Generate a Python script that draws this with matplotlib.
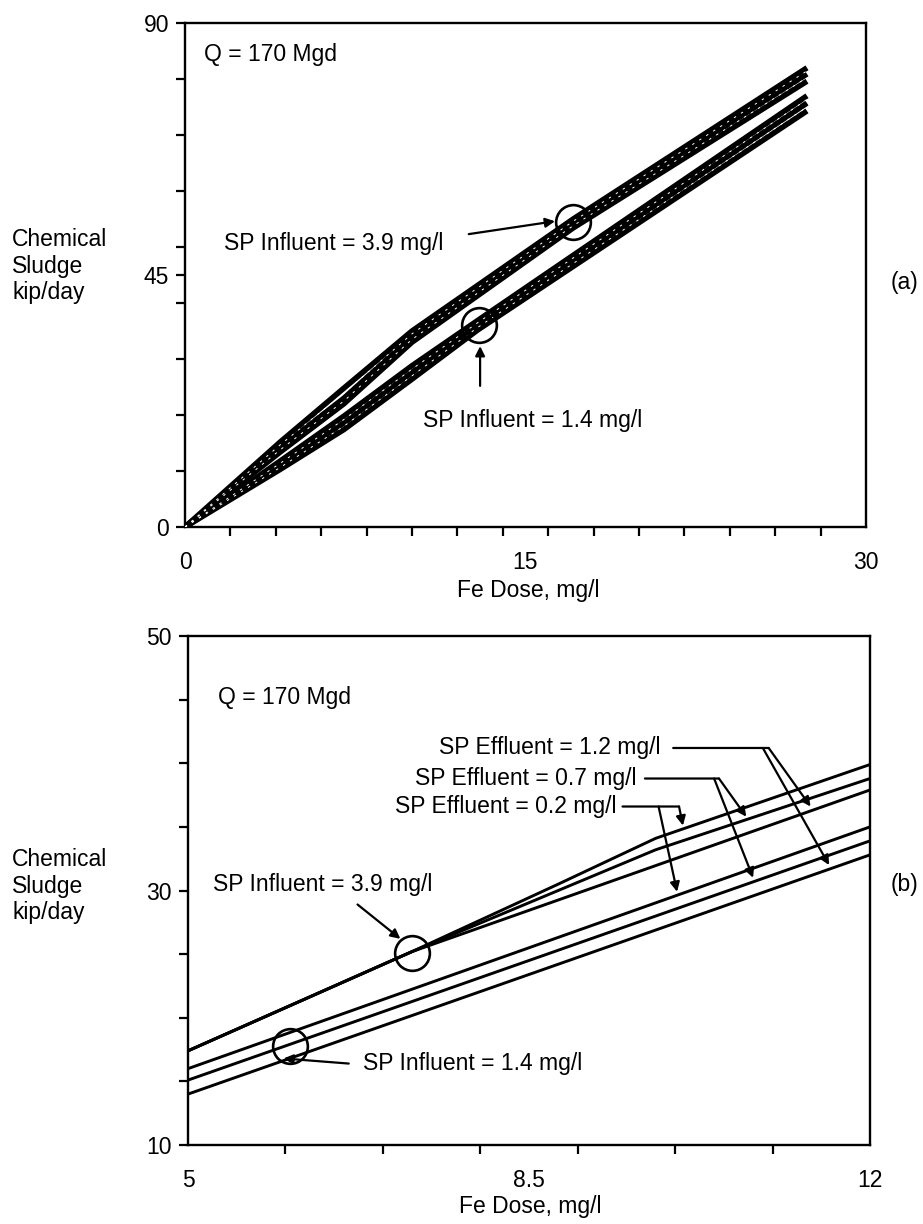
import matplotlib
matplotlib.use("Agg")
import matplotlib.pyplot as plt
from matplotlib.ticker import FixedLocator, FixedFormatter, NullFormatter

plt.rcParams['font.family'] = ['Liberation Sans', 'DejaVu Sans']

# ---------------- Panel (a) data ----------------
a_x_inf39 = [0, 4.2, 7.0, 10.0, 17.1, 27.4]
a_y_inf39_e02 = [0, 15.2, 24.8, 35.0, 55.0, 82.0]
a_y_inf39_e07 = [0, 14.2, 23.0, 34.0, 54.2, 80.9]
a_y_inf39_e12 = [0, 13.4, 22.0, 33.0, 53.4, 79.6]

a_x_inf14 = [0, 4.2, 7.0, 10.0, 12.9, 27.4]
a_y_inf14_e02 = [0, 11.8, 19.8, 28.8, 36.9, 77.0]
a_y_inf14_e07 = [0, 11.0, 18.6, 27.6, 36.1, 75.7]
a_y_inf14_e12 = [0, 10.3, 17.4, 26.4, 35.2, 74.3]

a_xticks = [0, 15, 30]
a_xticklabels = ["0", "15", "30"]
a_yticks = [0, 45, 90]
a_yticklabels = ["0", "45", "90"]

# ---------------- Panel (b) data ----------------
b_x_inf39_e02 = [5, 7.3, 8.8, 9.8, 12]
b_y_inf39_e02 = [17.4, 25.2, 30.5, 34.1, 39.9]
b_x_inf39_e07 = [5, 7.3, 9.8, 12]
b_y_inf39_e07 = [17.4, 25.2, 33.2, 38.8]
b_x_inf39_e12 = [5, 7.3, 12]
b_y_inf39_e12 = [17.4, 25.2, 37.9]

b_x_inf14 = [5, 8.5, 12]
b_y_inf14_e02 = [16.0, 25.5, 35.0]
b_y_inf14_e07 = [15.1, 24.5, 33.9]
b_y_inf14_e12 = [14.0, 23.4, 32.8]

b_xticks = [5, 8.5, 12]
b_xticklabels = ["5", "8.5", "12"]
b_yticks = [10, 30, 50]
b_yticklabels = ["10", "30", "50"]

FS = 16.5
W, H = 923, 1224

fig = plt.figure(figsize=(W / 100, H / 100), dpi=100)
ax1 = fig.add_axes([185 / W, 1 - 527 / H, 681 / W, 504 / H])
ax2 = fig.add_axes([188 / W, 1 - 1145 / H, 682 / W, 509 / H])


def style_axis(ax, xlim, ylim, xt, xtl, xminor, yt, ytl, yminor):
    ax.set_xlim(*xlim)
    ax.set_ylim(*ylim)
    for s in ax.spines.values():
        s.set_linewidth(1.7)
    ax.xaxis.set_major_locator(FixedLocator(xt))
    ax.xaxis.set_major_formatter(FixedFormatter(xtl))
    ax.xaxis.set_minor_locator(FixedLocator(xminor))
    ax.xaxis.set_minor_formatter(NullFormatter())
    ax.yaxis.set_major_locator(FixedLocator(yt))
    ax.yaxis.set_major_formatter(FixedFormatter(ytl))
    ax.yaxis.set_minor_locator(FixedLocator(yminor))
    ax.yaxis.set_minor_formatter(NullFormatter())
    ax.tick_params(axis='x', which='major', direction='out', length=0,
                   labelsize=FS, pad=17)
    ax.tick_params(axis='x', which='minor', direction='out', length=6.5, width=1.6)
    ax.tick_params(axis='y', which='major', direction='out', length=6.5,
                   width=1.6, labelsize=FS, pad=5)
    ax.tick_params(axis='y', which='minor', direction='out', length=6.5, width=1.6)


style_axis(ax1, (0, 30), (0, 90), a_xticks, a_xticklabels, list(range(0, 31, 2)),
           a_yticks, a_yticklabels, list(range(0, 91, 10)))
style_axis(ax2, (5, 12), (10, 50), b_xticks, b_xticklabels, list(range(5, 13)),
           b_yticks, b_yticklabels, list(range(10, 51, 5)))


def bundle(ax, x, ys, lw):
    for y in ys:
        ax.plot(x, y, color='black', lw=lw, solid_capstyle='butt',
                solid_joinstyle='round', zorder=3)
    # light dashed streaks inside the thick bundle (as in the scanned original)
    for y0, y1 in zip(ys[:-1], ys[1:]):
        mid = [(p + q) / 2 for p, q in zip(y0, y1)]
        ax.plot(x, mid, color='white', lw=0.7, ls=(0, (2.5, 6)), zorder=4)


# Panel (a) lines
bundle(ax1, a_x_inf39, [a_y_inf39_e02, a_y_inf39_e07, a_y_inf39_e12], 4.0)
bundle(ax1, a_x_inf14, [a_y_inf14_e02, a_y_inf14_e07, a_y_inf14_e12], 4.0)

# Panel (b) lines
for xs, ys in [(b_x_inf39_e02, b_y_inf39_e02), (b_x_inf39_e07, b_y_inf39_e07),
               (b_x_inf39_e12, b_y_inf39_e12), (b_x_inf14, b_y_inf14_e02),
               (b_x_inf14, b_y_inf14_e07), (b_x_inf14, b_y_inf14_e12)]:
    ax2.plot(xs, ys, color='black', lw=2.1, zorder=3)

circ = dict(marker='o', mfc='none', mec='black', mew=1.9, ms=25, ls='none', zorder=5)
arrow = dict(arrowstyle='-|>', color='black', lw=1.6, mutation_scale=14,
             shrinkA=0, shrinkB=0)
plain = dict(arrowstyle='-', color='black', lw=1.6, shrinkA=0, shrinkB=0)

# ---- Panel (a) annotations ----
ax1.text(0.84, 84.3, "Q = 170 Mgd", fontsize=FS, ha='left', va='center')
ax1.text(1.7, 50.7, "SP Influent = 3.9 mg/l", fontsize=FS, ha='left', va='center')
ax1.annotate('', xy=(16.3, 54.6), xytext=(12.5, 52.3), arrowprops=arrow)
ax1.plot([17.1], [54.4], **circ)
ax1.text(10.5, 19.1, "SP Influent = 1.4 mg/l", fontsize=FS, ha='left', va='center')
ax1.annotate('', xy=(13.0, 32.3), xytext=(13.0, 25.2), arrowprops=arrow)
ax1.plot([12.93], [36.1], **circ)

# ---- Panel (b) annotations ----
ax2.text(5.31, 45.2, "Q = 170 Mgd", fontsize=FS, ha='left', va='center')
ax2.text(5.26, 30.5, "SP Influent = 3.9 mg/l", fontsize=FS, ha='left', va='center')
ax2.annotate('', xy=(7.18, 26.2), xytext=(6.74, 28.9), arrowprops=arrow)
ax2.plot([7.3], [25.1], **circ)
ax2.text(6.8, 16.4, "SP Influent = 1.4 mg/l", fontsize=FS, ha='left', va='center')
ax2.annotate('', xy=(5.98, 16.8), xytext=(6.65, 16.4), arrowprops=arrow)
ax2.plot([6.05], [17.8], **circ)

# effluent labels with leaders
ax2.text(9.85, 41.2, "SP Effluent = 1.2 mg/l", fontsize=FS, ha='right', va='center')
ax2.annotate('', xy=(10.96, 41.2), xytext=(9.98, 41.2), arrowprops=plain)
ax2.annotate('', xy=(11.39, 36.6), xytext=(10.96, 41.2), arrowprops=arrow)
ax2.annotate('', xy=(11.58, 32.0), xytext=(10.90, 41.2), arrowprops=arrow)

ax2.text(9.6, 38.8, "SP Effluent = 0.7 mg/l", fontsize=FS, ha='right', va='center')
ax2.annotate('', xy=(10.45, 38.8), xytext=(9.69, 38.8), arrowprops=plain)
ax2.annotate('', xy=(10.73, 35.8), xytext=(10.45, 38.8), arrowprops=arrow)
ax2.annotate('', xy=(10.80, 31.0), xytext=(10.40, 38.8), arrowprops=arrow)

ax2.text(9.4, 36.6, "SP Effluent = 0.2 mg/l", fontsize=FS, ha='right', va='center')
ax2.annotate('', xy=(10.04, 36.6), xytext=(9.46, 36.6), arrowprops=plain)
ax2.annotate('', xy=(10.08, 35.1), xytext=(10.04, 36.6), arrowprops=arrow)
ax2.annotate('', xy=(10.02, 29.9), xytext=(9.83, 36.6), arrowprops=arrow)

# ---- figure-level labels ----
fig.text(12 / W, 1 - 266 / H, "Chemical\nSludge\nkip/day", fontsize=FS,
         ha='left', va='center', linespacing=1.2)
fig.text(12 / W, 1 - 886 / H, "Chemical\nSludge\nkip/day", fontsize=FS,
         ha='left', va='center', linespacing=1.2)
fig.text(528 / W, 1 - 590 / H, "Fe Dose, mg/l", fontsize=FS, ha='center', va='center')
fig.text(530 / W, 1 - 1207 / H, "Fe Dose, mg/l", fontsize=FS, ha='center', va='center')
fig.text(905 / W, 1 - 282 / H, "(a)", fontsize=FS, ha='center', va='center')
fig.text(905 / W, 1 - 884 / H, "(b)", fontsize=FS, ha='center', va='center')

fig.savefig("out.png", dpi=100)
